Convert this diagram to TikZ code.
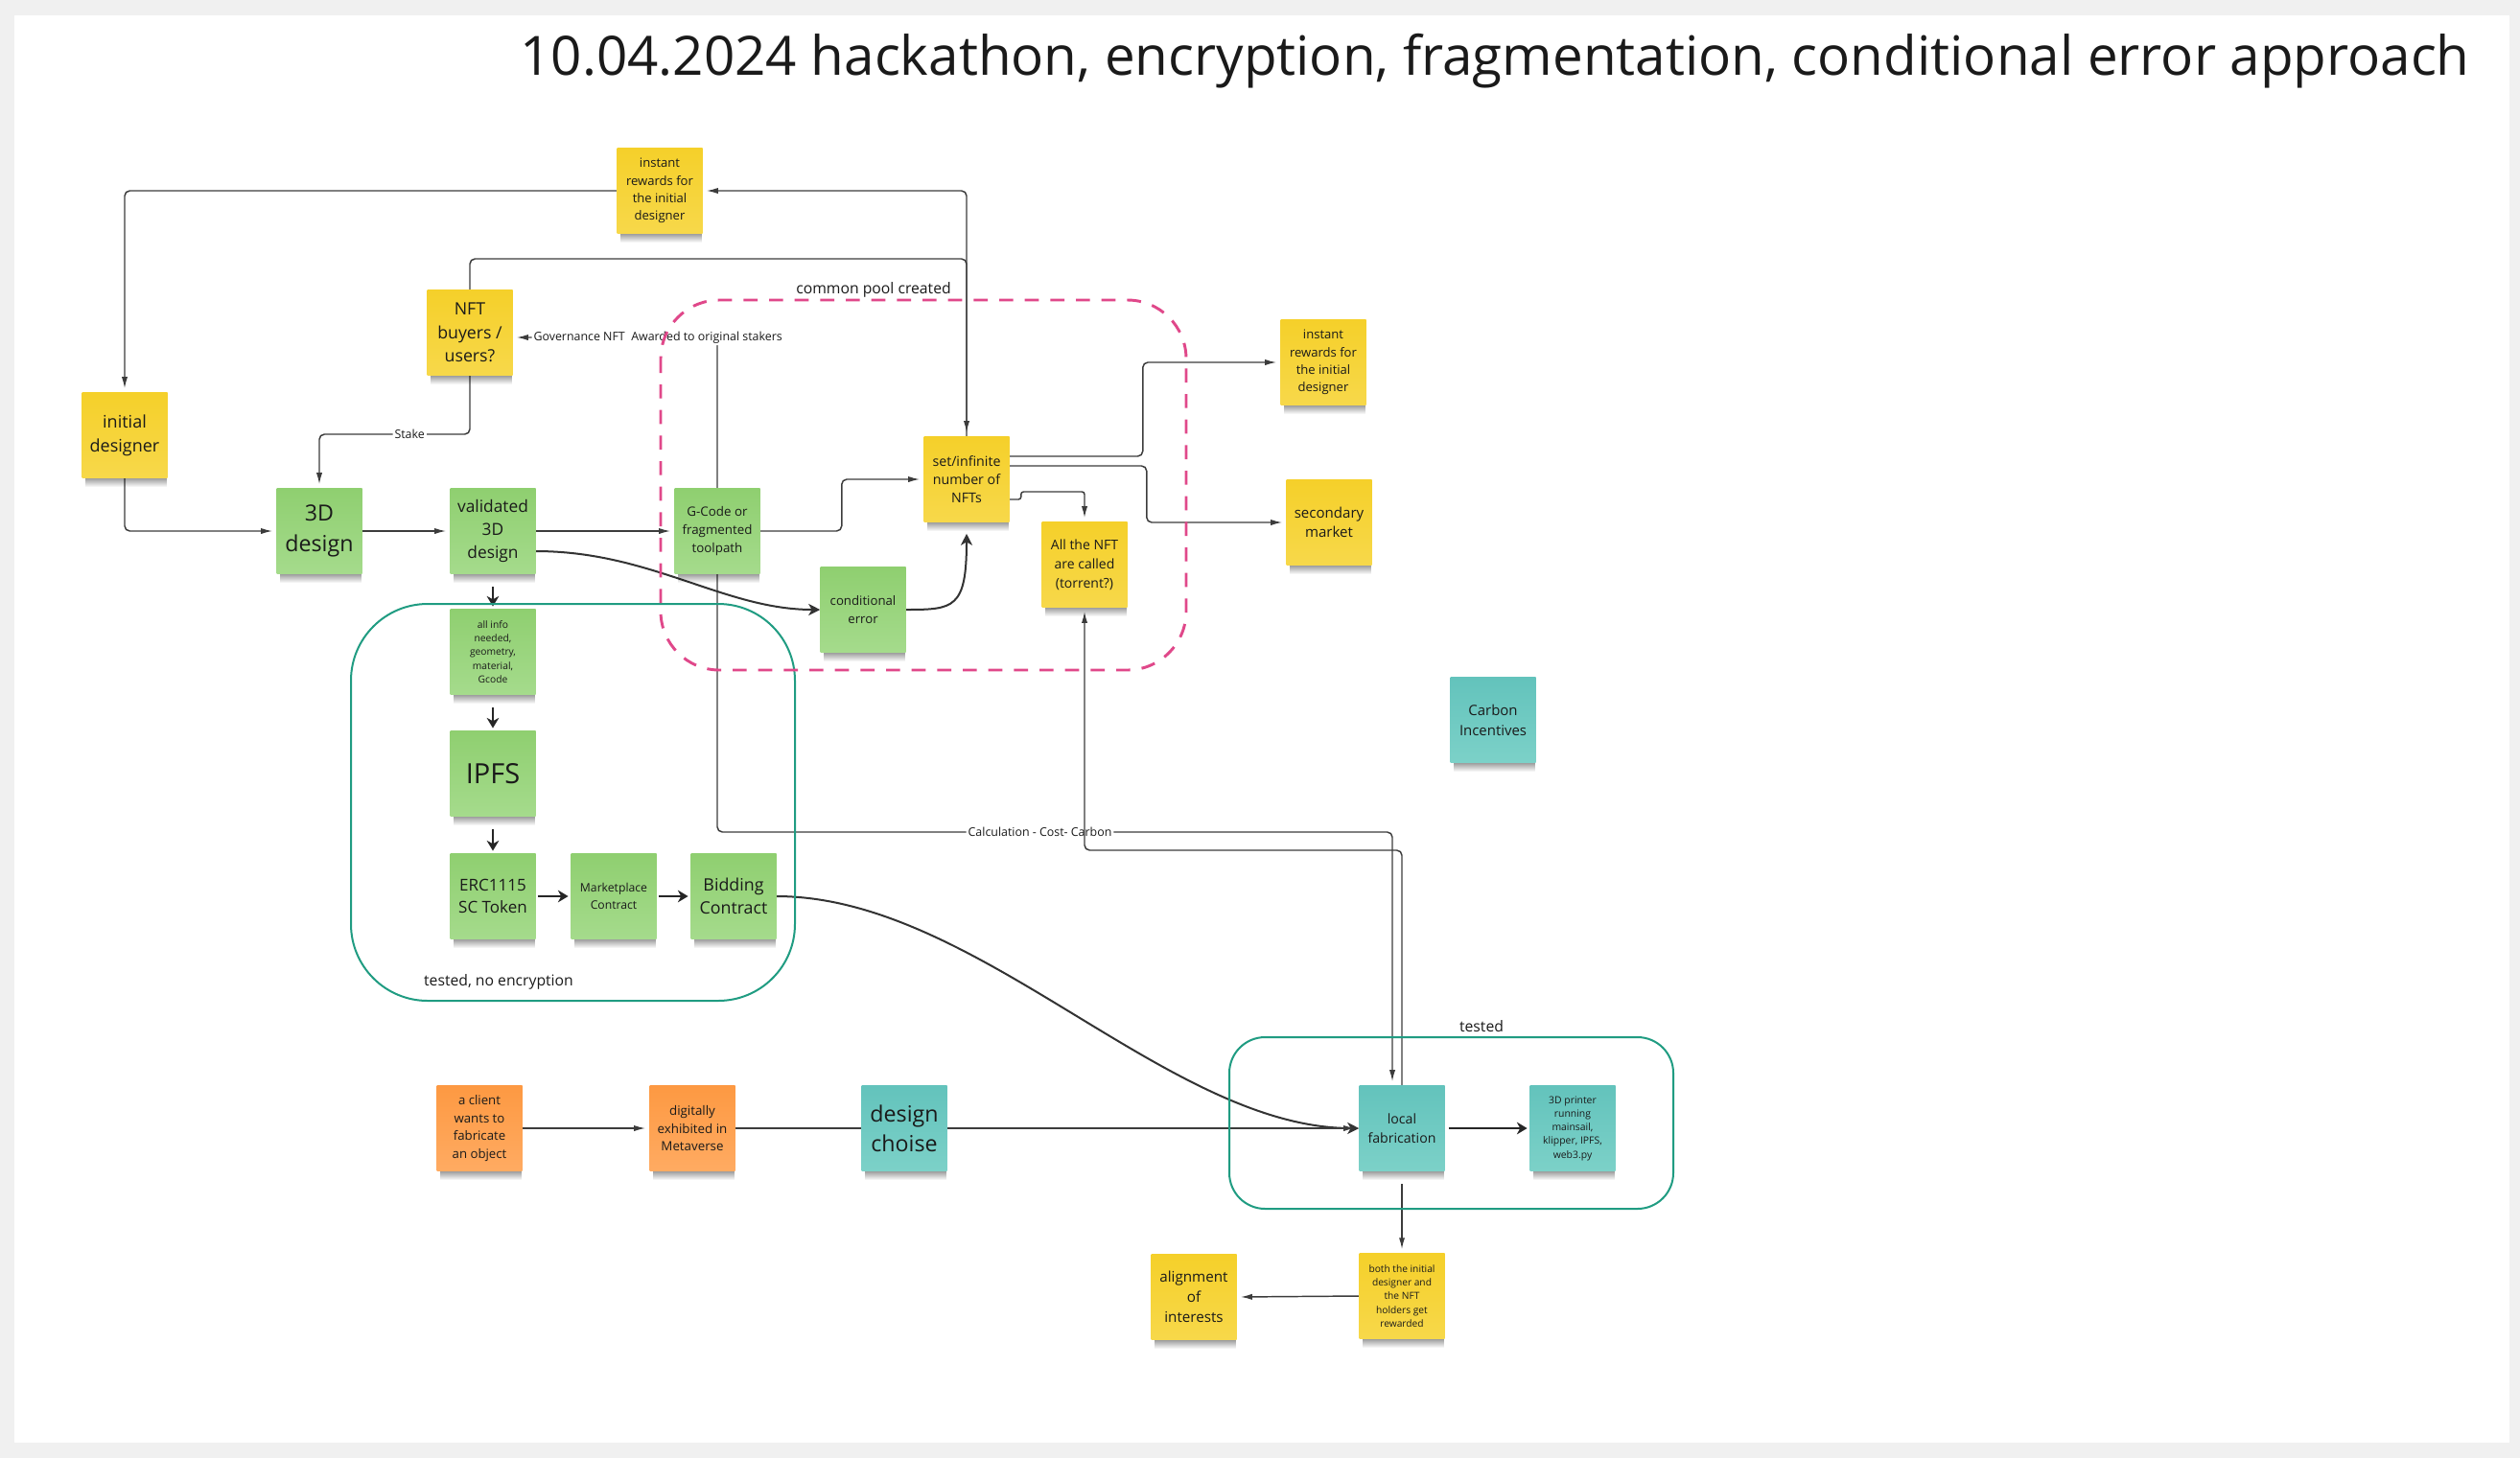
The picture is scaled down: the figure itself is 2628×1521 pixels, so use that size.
\documentclass[tikz,border=0pt]{standalone}
\usepackage{fontspec}
\setmainfont{Open Sans}
\usetikzlibrary{arrows.meta,fadings}
\pgfdeclarelayer{lines}
\pgfsetlayers{lines,main}

\definecolor{yel}{RGB}{245,208,42}
\definecolor{yelb}{RGB}{247,216,74}
\definecolor{grn}{RGB}{143,207,112}
\definecolor{grnb}{RGB}{165,219,140}
\definecolor{tel}{RGB}{99,195,188}
\definecolor{telb}{RGB}{124,209,200}
\definecolor{org}{RGB}{253,153,66}
\definecolor{orgb}{RGB}{255,171,98}
\definecolor{pinkd}{RGB}{224,72,138}
\definecolor{tealbox}{RGB}{32,156,130}
\definecolor{ink}{RGB}{26,26,26}
\definecolor{wire}{RGB}{60,60,60}
\definecolor{framegray}{RGB}{240,240,240}

\newcommand\fs[2]{\fontsize{#1pt}{#2pt}\selectfont}
\newcommand\sticky[6]{%
  \fill[black, path fading=south, fill opacity=0.42] (#2-41,#3+44) rectangle (#2+44,#3+54);
  \node[note, top color=#4, bottom color=#4b, font=#5] (#1) at (#2,#3) {#6};
}

\tikzset{
  note/.style={minimum width=66.75pt, minimum height=66.75pt, inner sep=0pt, align=center, text=ink},
  wirethin/.style={draw=wire, line width=1.1pt, rounded corners=4pt},
  tip/.style={-{Latex[length=9pt,width=4.6pt]}, shorten >=3pt},
  bold/.style={draw=black!85, line width=1.8pt, -{Stealth[length=8pt,width=9.5pt,inset=2.5pt]}, shorten >=2pt},
  curvy/.style={draw=black!80, line width=1.5pt, -{Stealth[length=9pt,width=9pt,inset=2.5pt]}},
  lbl/.style={fill=white, inner sep=1.5pt, text=ink, font=\fs{9.3}{11}},
  biglbl/.style={text=ink, font=\fs{11.8}{14}, inner sep=0pt},
}

\begin{document}
\begin{tikzpicture}[x=0.75pt, y=-0.75pt]
\useasboundingbox (0,0) rectangle (2628,1521);

% title
\node[font=\fs{42.4}{50}, text=ink, anchor=base, inner sep=0pt] (title) at (1559,78)
  {10.04.2024 hackathon, encryption, fragmentation, conditional error approach};

% sticky notes
\sticky{ir1}{688}{199}{yel}{\fs{9.8}{13.7}}{instant\\rewards for\\the initial\\designer}
\sticky{nft}{490}{347}{yel}{\fs{13.3}{18.5}}{NFT\\buyers /\\users?}
\sticky{init}{130}{454}{yel}{\fs{13.5}{18.75}}{initial\\designer}
\sticky{dthree}{333}{554}{grn}{\fs{17.4}{24}}{3D\\design}
\sticky{val}{514}{554}{grn}{\fs{13}{18}}{validated\\3D\\design}
\sticky{gcode}{748}{554}{grn}{\fs{10}{13.9}}{G-Code or\\fragmented\\toolpath}
\sticky{set}{1008}{500}{yel}{\fs{10.65}{14.5}}{set/infinite\\number of\\NFTs}
\sticky{irtwo}{1380}{378}{yel}{\fs{9.8}{13.7}}{instant\\rewards for\\the initial\\designer}
\sticky{sec}{1386}{545}{yel}{\fs{11.3}{15.5}}{secondary\\market}
\sticky{allnft}{1131}{589}{yel}{\fs{10.5}{15}}{All the NFT\\are called\\(torrent?)}
\sticky{cond}{900}{636}{grn}{\fs{9.9}{13.7}}{conditional\\error}
\sticky{allinfo}{514}{680}{grn}{\fs{7.7}{10.7}}{all info\\needed,\\geometry,\\material,\\Gcode}
\sticky{ipfs}{514}{807}{grn}{\fs{21.75}{30}}{IPFS}
\sticky{erc}{514}{935}{grn}{\fs{12.75}{16.9}}{ERC1115\\SC Token}
\sticky{market}{640}{935}{grn}{\fs{9.15}{13}}{Marketplace\\Contract}
\sticky{bid}{765}{935}{grn}{\fs{13.35}{17.8}}{Bidding\\Contract}
\sticky{carbon}{1557}{751}{tel}{\fs{11.2}{15.75}}{Carbon\\Incentives}
\sticky{client}{500}{1177}{org}{\fs{9.9}{14}}{a client\\wants to\\fabricate\\an object}
\sticky{digi}{722}{1177}{org}{\fs{10}{14.1}}{digitally\\exhibited in\\Metaverse}
\sticky{design}{943}{1177}{tel}{\fs{17.4}{23}}{design\\choise}
\sticky{local}{1462}{1177}{tel}{\fs{10.6}{15}}{local\\fabrication}
\sticky{printer}{1640}{1177}{tel}{\fs{7.8}{10.7}}{3D printer\\running\\mainsail,\\klipper, IPFS,\\web3.py}
\sticky{both}{1462}{1352}{yel}{\fs{7.65}{10.8}}{both the initial\\designer and\\the NFT\\holders get\\rewarded}
\sticky{alignn}{1245}{1353}{yel}{\fs{11.4}{15.6}}{alignment\\of\\interests}

% group labels
\node[biglbl] (lcommon) at (911,302) {common pool created};
\node[biglbl] (ltestedA) at (520,1024) {tested, no encryption};
\node[biglbl] (ltestedB) at (1545,1071) {tested};

% group frames
\draw[tealbox, line width=1.5pt, rounded corners=60pt] (366,630) rectangle (829,1044);
\draw[tealbox, line width=1.5pt, rounded corners=28pt] (1282,1082) rectangle (1745,1261);
\draw[pinkd, line width=2.2pt, dash pattern=on 11pt off 9pt, rounded corners=46pt] (689,313) rectangle (1237,699);

\begin{pgfonlayer}{lines}
\fill[framegray] (0,0) rectangle (2628,1521);
\fill[white] (15,16) rectangle (2617,1505);

% top loop
\draw[wirethin, tip] (nft.north) |- (set.north |- 0,270) -- (set.north);
\draw[wirethin, tip] (set.north) |- (ir1.east);
\draw[wirethin, tip] (ir1.west) -| (init.north);

% main row
\draw[wirethin, tip] (nft.south) |- node[lbl, pos=0.7]{Stake} (dthree.north |- 0,453) -- (dthree.north);
\draw[wirethin, tip] (init.south) |- (dthree.west);
\draw[wirethin, tip] (dthree.east) -- (val.west);
\draw[wirethin, tip] (val.east) -- (gcode.west);
\draw[wirethin, tip] (gcode.east) -- ++(85,0) |- (set.west);
\draw[wirethin, tip] (gcode.north) |- node[lbl, pos=0.645]{Governance NFT\ \ Awarded to original stakers} ([yshift=-3.75pt]nft.east);
\draw[wirethin, tip] (gcode.south) |- node[lbl, pos=0.739]{Calculation - Cost- Carbon} ([xshift=-7.5pt]local.north |- 0,868) -- ([xshift=-7.5pt]local.north);
\draw[wirethin, tip] (local.north) |- (allnft.south |- 0,887) -- (allnft.south);

% outputs of set
\draw[wirethin, tip] ([yshift=18pt]set.east) -- ++(139,0) |- (irtwo.west);
\draw[wirethin, tip] ([yshift=10.5pt]set.east) -- ++(143,0) |- (sec.west);
\draw[wirethin, tip, rounded corners=2pt] ([yshift=-15.75pt]set.east) -- ++(12,0) -- ++(0,-8) -| (allnft.north);

% curves
\draw[curvy] ([yshift=-15.75pt]val.east) .. controls +(120,0) and +(-100,0) .. (cond.west);
\draw[curvy, shorten >=9pt] (cond.east) .. controls +(50,0) and +(0,90) .. (set.south);
\draw[curvy] (bid.east) .. controls +(210,0) and +(-200,0) .. (local.west);

% inner chain
\draw[bold, shorten <=10pt] (val.south) -- (allinfo.north);
\draw[bold, shorten <=10pt] (allinfo.south) -- (ipfs.north);
\draw[bold, shorten <=10pt] (ipfs.south) -- (erc.north);
\draw[bold, shorten <=2pt] (erc.east) -- (market.west);
\draw[bold, shorten <=2pt] (market.east) -- (bid.west);
\draw[bold, shorten <=3pt] (local.east) -- (printer.west);

% bottom row
\draw[wirethin, tip] (client.east) -- (digi.west);
\draw[wirethin] (digi.east) -- (design.west);
\draw[wirethin, tip] (design.east) -- (local.west);
\draw[wirethin, tip, shorten <=10pt] (local.south) -- (both.north);
\draw[wirethin, tip] (both.west) -- (alignn.east);
\end{pgfonlayer}
\end{tikzpicture}
\end{document}
